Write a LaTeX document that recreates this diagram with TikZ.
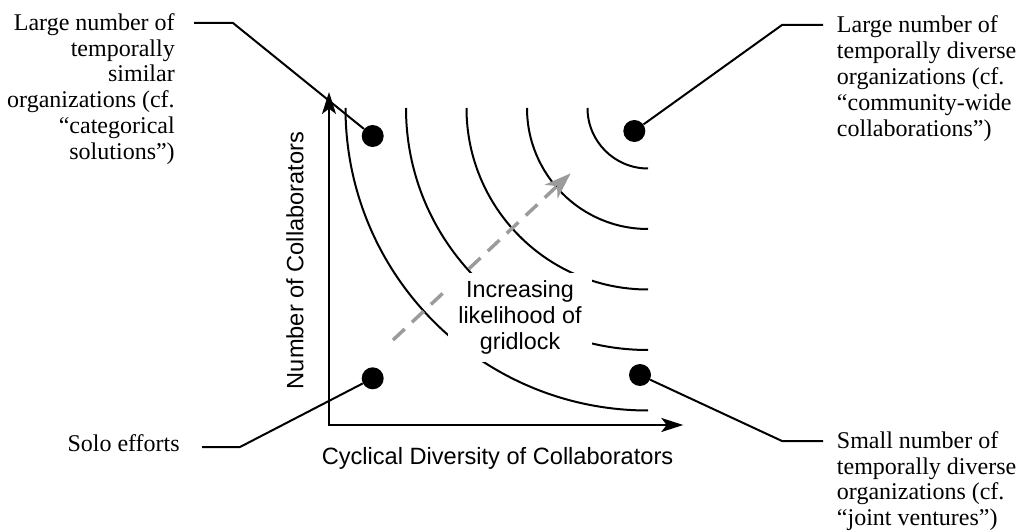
\documentclass[tikz,border=0pt]{standalone}
\usepackage{fontspec}
\setmainfont{Liberation Serif}
\setsansfont{Liberation Sans}
\usetikzlibrary{arrows.meta,positioning}
\definecolor{trendcolor}{RGB}{155,155,155}

\begin{document}
\begin{tikzpicture}[
    x=0.75pt, y=-0.75pt,
    quadtext/.style={font=\fontsize{18}{19.4}\selectfont, inner sep=0pt},
    axistext/.style={font=\sffamily\fontsize{17.7}{19.5}\selectfont, inner sep=0pt},
    gridbox/.style={font=\sffamily\fontsize{17.5}{19.5}\selectfont, fill=white, align=center, inner sep=0pt, minimum width=108pt, minimum height=67pt},
    dot/.style={circle, fill=black, inner sep=0pt, minimum size=16.5pt},
    contour/.style={draw=black, line width=1.5pt},
    axisline/.style={draw=black, line width=1.5pt, >={Stealth[length=16.5pt,width=10.5pt,inset=4pt]}},
    callout/.style={draw=black, line width=1.5pt},
    trend/.style={draw=trendcolor, line width=2.6pt, dash pattern=on 12pt off 7.5pt, -{Stealth[length=20pt,width=14pt,inset=6pt]}}
]
    \useasboundingbox (0,0) rectangle (1022,531);

    % iso-lines of gridlock likelihood
    \coordinate (hub) at (648,108);
    \foreach \r in {60.5,121,181.5,242,302.5}
        \draw[contour] (hub) ++(-\r,0) arc[start angle=180, end angle=90, radius=\r];

    \coordinate (trendstart) at (393,340);
    \coordinate (trendend) at (570.7,173.3);
    \draw[trend] (trendstart) -- (trendend);

    \node[gridbox] (gridlock) at (520,317.5) {Increasing\\likelihood of\\gridlock};

    % axes
    \coordinate (origin) at (329,425);
    \coordinate (ytip) at (329,92);
    \coordinate (xtip) at (683.3,425);
    \draw[axisline, <->] (ytip) -- (origin) -- (xtip);
    \node[axistext] (xlabel) at (497.5,458) {Cyclical Diversity of Collaborators};
    \node[axistext, rotate=90] (ylabel) at (295,260.5) {Number of Collaborators};

    % quadrant markers
    \node[dot] (simdot) at (372.7,136) {};
    \node[dot] (divdot) at (634.3,131) {};
    \node[dot] (solodot) at (372.7,378.3) {};
    \node[dot] (jointdot) at (640,375) {};

    % quadrant descriptions
    \node[quadtext, align=right, anchor=north east] (simtext) at (175,13) {Large number of\\temporally\\similar\\organizations (cf.\\“categorical\\solutions”)};
    \node[quadtext, align=left, anchor=north west] (divtext) at (836.7,15.4) {Large number of\\temporally diverse\\organizations (cf.\\“community-wide\\collaborations”)};
    \node[quadtext, anchor=base east] (solotext) at (180,451) {Solo efforts};
    \node[quadtext, align=left, anchor=north west] (jointtext) at (836.7,431) {Small number of\\temporally diverse\\organizations (cf.\\“joint ventures”)};

    \coordinate (simfoot) at (194,23);
    \coordinate (divfoot) at (823,25);
    \coordinate (solofoot) at (202,447);
    \coordinate (jointfoot) at (823,441);
    \draw[callout] (simfoot) -- ++(39,0) -- (simdot);
    \draw[callout] (divfoot) -- ++(-41,0) -- (divdot);
    \draw[callout] (solofoot) -- ++(38,0) -- (solodot);
    \draw[callout] (jointfoot) -- ++(-41,0) -- (jointdot);

\end{tikzpicture}
\end{document}
